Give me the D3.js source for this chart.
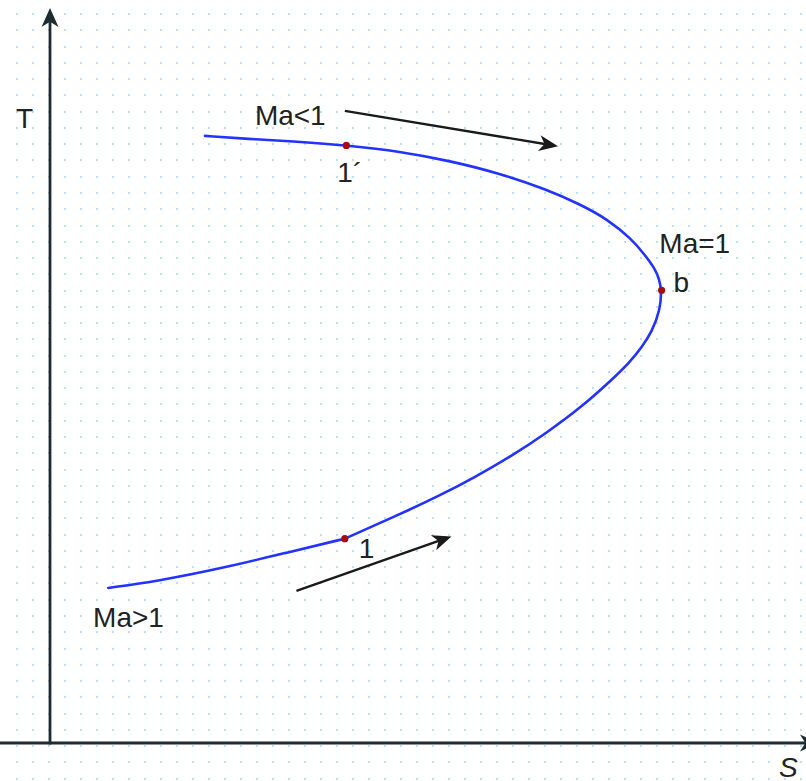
<!DOCTYPE html>
<html>
<head>
<meta charset="utf-8">
<script src="https://cdn.jsdelivr.net/npm/d3@7"></script>
<style>
  html, body { margin: 0; padding: 0; background: #ffffff; overflow: hidden; }
  svg { display: block; }
  text { font-family: "Liberation Sans", Arial, Helvetica, sans-serif; fill: #222222; }
</style>
</head>
<body>
<svg id="chart" width="806" height="781"></svg>
<script>
// ---- data (entropy s, temperature T in arbitrary units) ----
const curveS = [2.05, 2.74, 3.31, 3.92, 4.63, 5.29, 5.95, 6.57, 7.01, 7.37, 7.69, 7.87, 8.01, 8.06, 8.09,
                8.07, 7.96, 7.83, 7.67, 7.43, 7.03, 6.57, 6.10, 5.59, 5.16, 4.75, 4.31, 3.90,
                3.17, 2.29, 1.41, 0.77];
const curveT = [8.26, 8.21, 8.18, 8.13, 8.05, 7.92, 7.75, 7.53, 7.33, 7.13, 6.86, 6.64, 6.44, 6.30, 6.16,
                5.89, 5.59, 5.39, 5.18, 4.94, 4.57, 4.22, 3.90, 3.60, 3.37, 3.17, 2.97, 2.78,
                2.60, 2.38, 2.20, 2.11];

const markLabels = ["1´", "b", "1"];
const markS = [3.92, 8.09, 3.90];
const markT = [8.13, 6.16, 2.78];

const regimeLabels = ["Ma<1", "Ma=1", "Ma>1"];
const regimeS = [2.71, 8.06, 0.57];
const regimeT = [8.41, 6.67, 1.58];

const arrowFromS = [3.90, 3.26];
const arrowFromT = [8.60, 2.07];
const arrowToS = [6.72, 5.31];
const arrowToT = [8.12, 2.81];

const axisLabels = ["S", "T"];

// ---- layout ----
const svg = d3.select("#chart");
const x = d3.scaleLinear().domain([0, 10]).range([50, 806]);
const y = d3.scaleLinear().domain([0, 10]).range([743, 8]);

// dotted background grid (crisp dots on whole pixels)
const gridG = svg.append("g");
for (let i = 0; i < 51; i++) {
  const gx0 = 16 + i * 16;
  for (let j = 0; j < 49; j++) {
    const gy0 = Math.round(13 + j * 16.27);
    gridG.append("rect").attr("x", gx0).attr("y", gy0).attr("width", 2).attr("height", 2)
      .attr("fill", "#bcdff8");
  }
}

// axes via d3 axes (no ticks)
const axisColor = "#1e2b31";
const gx = svg.append("g").attr("transform", `translate(0,${y(0)})`)
  .call(d3.axisBottom(x).ticks(0).tickSizeOuter(0));
const gy = svg.append("g").attr("transform", `translate(${x(0)},0)`)
  .call(d3.axisLeft(y).ticks(0).tickSizeOuter(0));
[gx, gy].forEach(g => g.select(".domain").attr("stroke", axisColor).attr("stroke-width", 2.8));
gy.select(".domain").attr("d", `M0,${y(0) + 1.4}V${y(10) + 14}`);
gx.select(".domain").attr("d", `M-1.4,0H${x(10)}`);

// arrowheads
function head(tx, ty, angle, len, half, color) {
  const c = Math.cos(angle), s = Math.sin(angle);
  const pts = [[0, 0], [-len, -half], [-len * 0.72, 0], [-len, half]]
    .map(([u, v]) => [tx + u * c - v * s, ty + u * s + v * c]);
  return svg.append("path").attr("d", "M" + pts.map(p => p.join(",")).join("L") + "Z")
    .attr("fill", color);
}
head(x(0), y(10), -Math.PI / 2, 19, 8.5, axisColor);
head(x(10) + 13, y(0), 0, 19, 8.5, axisColor);

// axis labels
svg.append("text").attr("x", 16).attr("y", 128).attr("font-size", 28).text(axisLabels[1]);
svg.append("text").attr("x", x(10) - 27).attr("y", 777).attr("font-size", 28)
  .attr("font-style", "italic").text(axisLabels[0]);

// curve (two smooth pieces, meeting at state 1)
const pts = curveS.map((s, i) => [s, curveT[i]]);
const split = 27;
const line = d3.line().x(d => x(d[0])).y(d => y(d[1])).curve(d3.curveBasis);
[pts.slice(0, split + 1), pts.slice(split)].forEach(seg => {
  svg.append("path").attr("d", line(seg)).attr("fill", "none")
    .attr("stroke", "#2233ff").attr("stroke-width", 2.6)
    .attr("stroke-linecap", "round").attr("stroke-linejoin", "round");
});

// direction arrows
arrowFromS.forEach((s0, i) => {
  const x0 = x(s0), y0 = y(arrowFromT[i]), x1 = x(arrowToS[i]), y1 = y(arrowToT[i]);
  const ang = Math.atan2(y1 - y0, x1 - x0);
  svg.append("line").attr("x1", x0).attr("y1", y0)
    .attr("x2", x1 - 12 * Math.cos(ang)).attr("y2", y1 - 12 * Math.sin(ang))
    .attr("stroke", "#1a1a1a").attr("stroke-width", 2.4);
  head(x1, y1, ang, 19, 8, "#1a1a1a");
});

// state points
svg.selectAll("circle.mark").data(markS).join("circle").attr("class", "mark")
  .attr("cx", d => x(d)).attr("cy", (d, i) => y(markT[i])).attr("r", 3.6)
  .attr("fill", "#a30e0e");

// point labels
const markDx = [-9, 12, 14];
const markDy = [37, 2, 19];
markLabels.forEach((t, i) => {
  svg.append("text").attr("x", x(markS[i]) + markDx[i]).attr("y", y(markT[i]) + markDy[i])
    .attr("font-size", 28).text(t);
});

// regime labels
regimeLabels.forEach((t, i) => {
  svg.append("text").attr("x", x(regimeS[i])).attr("y", y(regimeT[i]))
    .attr("font-size", 28).text(t);
});
</script>
</body>
</html>
